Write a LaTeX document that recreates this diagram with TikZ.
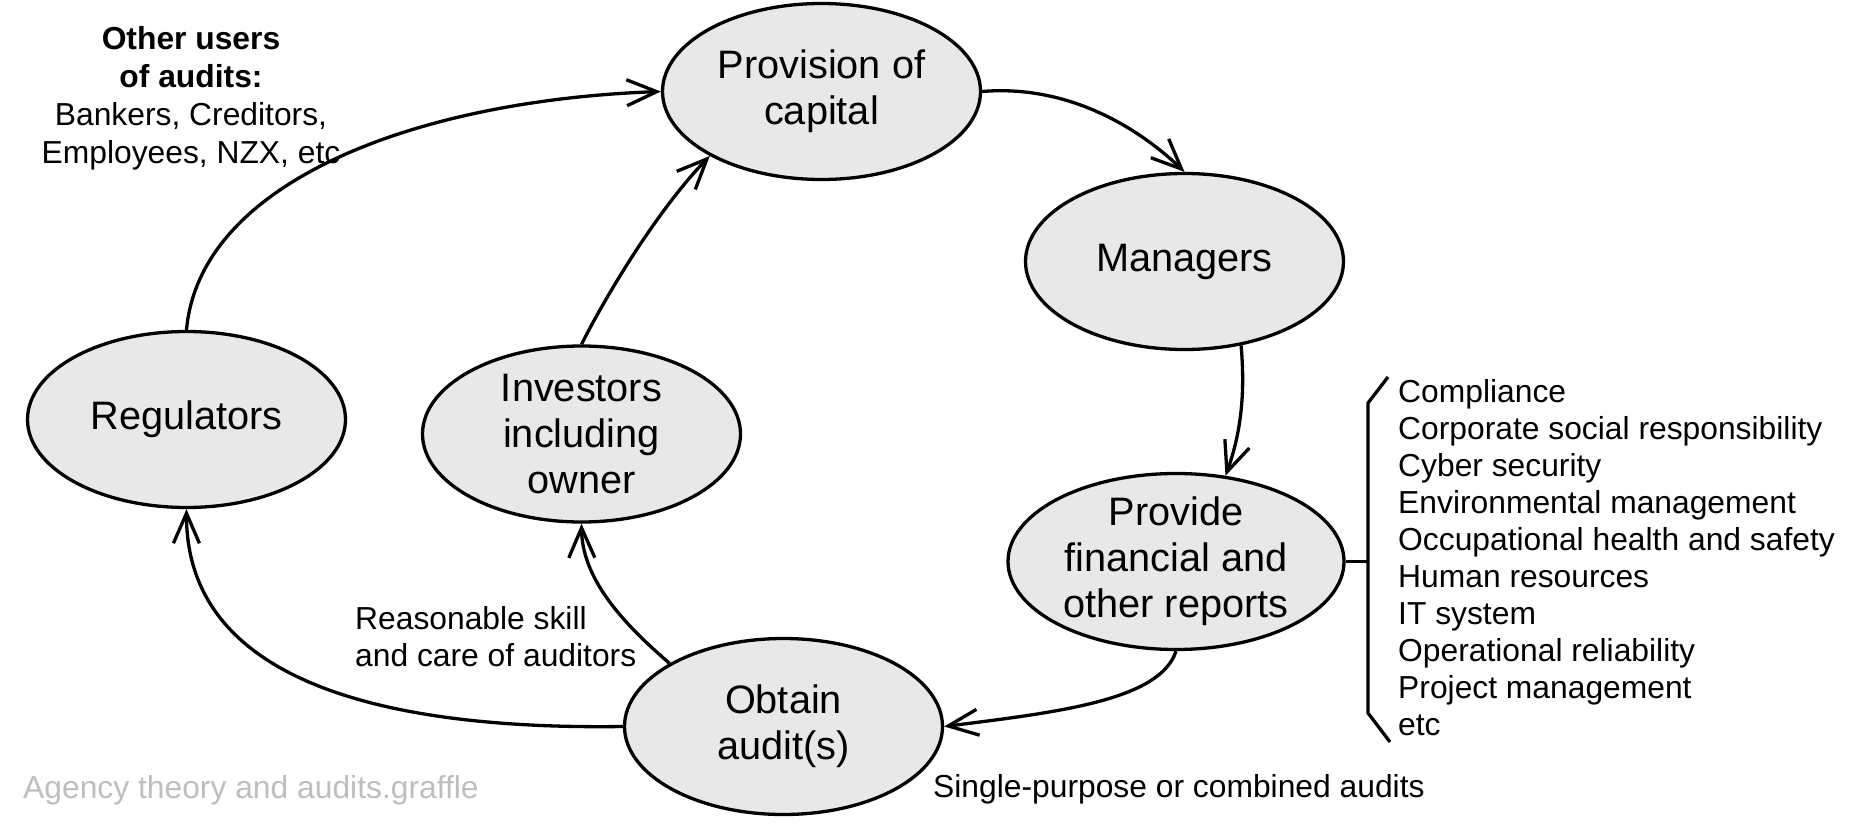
\documentclass[tikz,border=0pt]{standalone}
\usepackage{fontspec}
\setmainfont{Liberation Sans}
\usetikzlibrary{shapes.geometric,arrows.meta}
\definecolor{fillg}{RGB}{232,232,232}
\definecolor{noteg}{RGB}{190,190,190}
\newcommand{\bigtxt}{\fontsize{39.7}{46}\selectfont}
\newcommand{\smalltxt}{\fontsize{31.8}{37}\selectfont}
\begin{document}
\begin{tikzpicture}[x=1pt,y=-1pt,
  ell/.style={ellipse, draw, fill=fillg, line width=3.3pt, minimum width=318pt,
    minimum height=176pt, inner sep=0pt, align=center, font=\bigtxt},
  conn/.style={line width=3.3pt, -{Straight Barb[length=30pt,width=26pt]}},
  plainline/.style={line width=3.3pt},
  lbl/.style={inner sep=0pt, font=\smalltxt, anchor=base west},
]
\path[use as bounding box] (0,0) rectangle (1860,832);

% ellipses
\node[ell] (prov) at (821.5,91.5) {Provision of\\capital};
\node[ell] (mgr) at (1184.5,261.5) {Managers};
\node[ell] (reg) at (186.5,419.5) {Regulators};
\node[ell] (inv) at (581.5,434) {Investors\\including\\owner};
\node[ell, minimum width=336pt, inner ysep=-3pt] (prv) at (1176,561.5) {Provide\\financial and\\other reports};
\node[ell] (obt) at (783.5,726.5) {Obtain\\audit(s)};

% connectors
\draw[conn] (reg.north) .. controls (200,180) and (420,100) .. (prov.west);
\draw[conn] (inv.north) .. controls (611,286) and (662,205) .. (prov.210);
\draw[conn] (prov.east) .. controls (1060,85) and (1130,120) .. (mgr.north);
\draw[conn] (mgr.-56) .. controls (1245,390) and (1242,430) .. (prv.60);
\draw[conn] (prv.south) .. controls (1160,700) and (1060,712) .. (obt.east);
\draw[conn] (obt.151) .. controls (625,625) and (582,580) .. (inv.south);
\draw[conn] (obt.west) .. controls (380,730) and (186,680) .. (reg.south);

% bracket
\coordinate (btop) at (1388,377);
\coordinate (bul) at (1368,403);
\coordinate (bll) at (1368,713);
\coordinate (bbot) at (1390,742);
\coordinate (bmid) at (1368,561.5);
\draw[plainline] (btop) -- (bul) -- (bll) -- (bbot);
\draw[plainline] (prv.east) -- (bmid);

% list
\foreach [count=\i from 0] \t in {Compliance, Corporate social responsibility,
  Cyber security, Environmental management, Occupational health and safety,
  Human resources, IT system, Operational reliability, Project management, etc}
  \node[lbl] (item\i) at (1398,{402+37*\i}) {\t};

% other users
\node[lbl, anchor=base, font=\smalltxt\bfseries] (ou1) at (191,50) {Other users};
\node[lbl, anchor=base, font=\smalltxt\bfseries] (ou2) at (191,88) {of audits:};
\node[lbl, anchor=base] (ou3) at (191,126) {Bankers, Creditors,};
\node[lbl, anchor=base] (ou4) at (191,163) {Employees, NZX, etc};

% labels
\node[lbl] (rs1) at (355,629) {Reasonable skill};
\node[lbl] (rs2) at (355,666) {and care of auditors};
\node[lbl] (spc) at (933,797) {Single-purpose or combined audits};
\node[lbl, text=noteg] (fname) at (23,798) {Agency theory and audits.graffle};
\end{tikzpicture}
\end{document}
